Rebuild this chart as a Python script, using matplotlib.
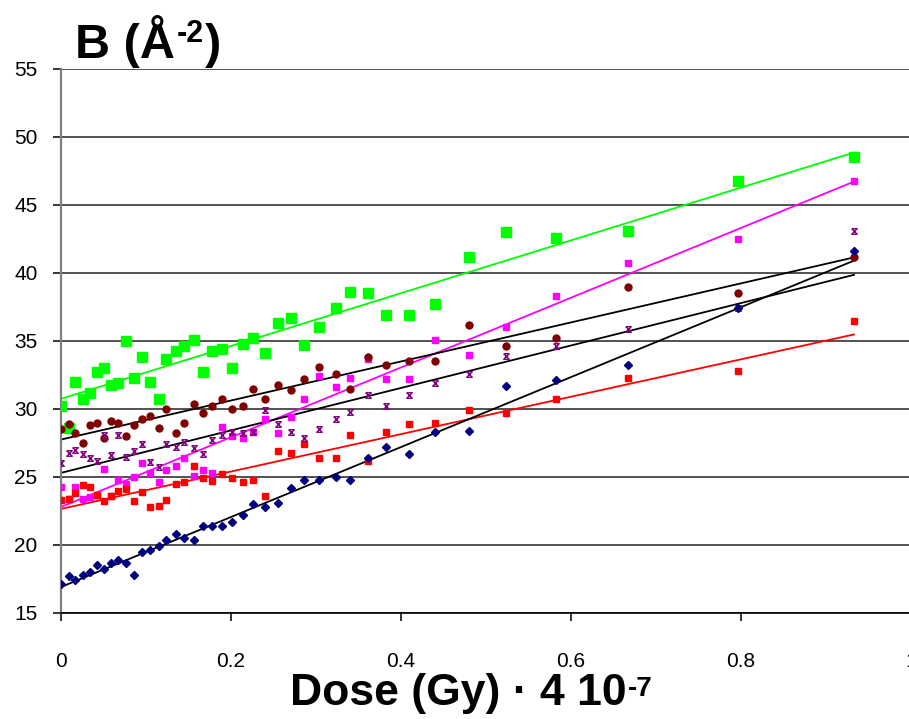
import numpy as np
import matplotlib
matplotlib.use('Agg')
import matplotlib.pyplot as plt

plt.rcParams['font.family'] = ['Liberation Sans', 'DejaVu Sans']

# dose values (Gy * 4e-7), shared by all series
dose = [0, 0.009, 0.017, 0.026, 0.034, 0.042, 0.051, 0.059, 0.067, 0.077,
        0.086, 0.095, 0.105, 0.115, 0.124, 0.135, 0.145, 0.156, 0.167, 0.178,
        0.189, 0.201, 0.214, 0.226, 0.240, 0.255, 0.270, 0.286, 0.304, 0.323,
        0.340, 0.361, 0.382, 0.409, 0.440, 0.480, 0.524, 0.582, 0.667, 0.797,
        0.933]

b_green = [30.2, 28.6, 32.0, 30.7, 31.2, 32.7, 33.0, 31.8, 31.9, 35.0,
           32.3, 33.8, 32.0, 30.7, 33.7, 34.3, 34.6, 35.1, 32.7, 34.3,
           34.4, 33.0, 34.8, 35.2, 34.1, 36.3, 36.7, 34.7, 36.0, 37.4,
           38.6, 38.5, 36.9, 36.9, 37.7, 41.2, 43.0, 42.6, 43.1, 46.8, 48.5]
b_magenta = [24.3, 23.4, 24.3, 23.4, 23.5, 23.7, 25.6, 23.6, 24.8, 24.5,
             25.0, 26.0, 25.3, 24.6, 25.5, 25.8, 26.4, 25.1, 25.5, 25.3,
             28.7, 28.0, 27.9, 28.3, 29.3, 28.2, 29.4, 30.7, 32.4, 31.6,
             32.3, 33.7, 32.2, 32.2, 35.1, 34.0, 36.0, 38.3, 40.7, 42.5, 46.8]
b_red = [23.3, 23.4, 23.8, 24.4, 24.3, 23.7, 23.2, 23.6, 24.0, 24.1,
         23.2, 23.9, 22.8, 22.9, 23.3, 24.5, 24.6, 25.8, 24.9, 24.7,
         25.2, 24.9, 24.6, 24.8, 23.6, 26.9, 26.8, 27.4, 26.4, 26.4,
         28.1, 26.2, 28.3, 28.9, 29.0, 29.9, 29.7, 30.7, 32.3, 32.8, 36.5]
b_darkred = [28.5, 28.9, 28.2, 27.5, 28.8, 29.0, 27.9, 29.1, 29.0, 28.0,
             28.8, 29.3, 29.5, 28.6, 30.0, 28.2, 29.0, 30.4, 29.7, 30.2,
             30.7, 30.0, 30.2, 31.5, 30.7, 31.8, 31.4, 32.2, 33.1, 32.6,
             31.5, 33.8, 33.2, 33.5, 33.5, 36.2, 34.6, 35.2, 39.0, 38.5, 41.2]
b_purple = [26.0, 26.8, 27.0, 26.7, 26.4, 26.2, 28.1, 26.6, 28.1, 26.5,
            26.9, 27.4, 26.1, 25.7, 27.4, 27.2, 27.6, 27.1, 26.7, 27.7,
            28.1, 28.3, 28.2, 28.3, 29.9, 28.9, 28.3, 27.9, 28.5, 29.3,
            29.8, 31.0, 30.2, 31.0, 31.9, 32.6, 33.9, 34.6, 35.9, 37.4, 43.1]
b_navy = [17.1, 17.7, 17.4, 17.8, 18.0, 18.5, 18.2, 18.7, 18.9, 18.7,
          17.8, 19.5, 19.6, 19.9, 20.4, 20.8, 20.5, 20.4, 21.4, 21.4,
          21.4, 21.7, 22.2, 23.0, 22.8, 23.1, 24.2, 24.8, 24.8, 25.0,
          24.8, 26.4, 27.2, 26.7, 28.3, 28.4, 31.7, 32.1, 33.2, 37.4, 41.6]

# excel-like "star" marker: x with bars top and bottom
hourglass = [(-1, 1), (1, 1), (-1, -1), (1, -1), (-1, 1)]

series = [
    (b_green, '#00FF00', 's', 6.5, '#00FF00'),
    (b_magenta, '#FF00FF', 's', 5, '#FF00FF'),
    (b_red, '#FF0000', 's', 5, '#FF0000'),
    (b_darkred, '#800000', 'o', 5, 'black'),
    (b_purple, '#800080', hourglass, 4, 'black'),
    (b_navy, '#000080', 'D', 4, 'black'),
]

fig = plt.figure(figsize=(9.09, 7.19), dpi=100)
ax = fig.add_axes([61/909, 106/719, 850/909, 544/719])

x = np.array(dose)
for y, col, mk, ms, lcol in series:
    y = np.array(y)
    k, c = np.polyfit(x, y, 1)
    xx = np.array([0, x[-1]])
    ax.plot(xx, k*xx + c, color=lcol, lw=1.3, zorder=2)
    if isinstance(mk, list):
        ax.plot(x, y, ls='none', marker=mk, ms=ms, mfc='none', mec=col, mew=1.0, zorder=3)
    else:
        ax.plot(x, y, ls='none', marker=mk, ms=ms, color=col, mec=col, zorder=3)

ax.set_xlim(0, 1)
ax.set_ylim(15, 55)
ax.set_xticks([0, 0.2, 0.4, 0.6, 0.8, 1])
ax.set_xticklabels(['0', '0.2', '0.4', '0.6', '0.8', '1'])
ax.set_yticks(range(15, 56, 5))
ax.yaxis.grid(True, color='#333333', lw=1.2)
ax.set_axisbelow(True)
for s in ['top', 'right']:
    ax.spines[s].set_visible(False)
ax.spines['left'].set_color('#808080')
ax.spines['left'].set_linewidth(1.6)
ax.spines['bottom'].set_color('black')
ax.spines['bottom'].set_linewidth(1.2)
ax.tick_params(axis='both', labelsize=15, length=6, width=1.1, direction='out')
ax.tick_params(axis='x', pad=22)
ax.tick_params(axis='y', pad=11)

# title "B (Å-2)" with a small raised -2
t1 = fig.text(75/909, 1 - 58/719, 'B (Å', fontsize=35, fontweight='bold',
              ha='left', va='baseline')
t2 = ax.annotate('-2', xy=(1, 1), xycoords=t1, xytext=(1, -3), textcoords='offset points',
                 fontsize=22, fontweight='bold', ha='left', va='top', annotation_clip=False)
ax.annotate(')', xy=(1, 0), xycoords=(t2, t1), xytext=(1, 0), textcoords='offset points',
            fontsize=35, fontweight='bold', ha='left', va='bottom', annotation_clip=False)

# x axis label "Dose (Gy) · 4 10-7"
narrow = ['Liberation Sans Narrow', 'Liberation Sans']
t3 = fig.text(290/909, 1 - 705/719, 'Dose (Gy) · 4 10', fontsize=32,
              fontweight='bold', ha='left', va='baseline', family=narrow)
ax.annotate('-7', xy=(1, 1), xycoords=t3, xytext=(1, -2), textcoords='offset points',
            fontsize=20, fontweight='bold', ha='left', va='top', family=narrow,
            annotation_clip=False)

fig.savefig('out.png', dpi=100)
